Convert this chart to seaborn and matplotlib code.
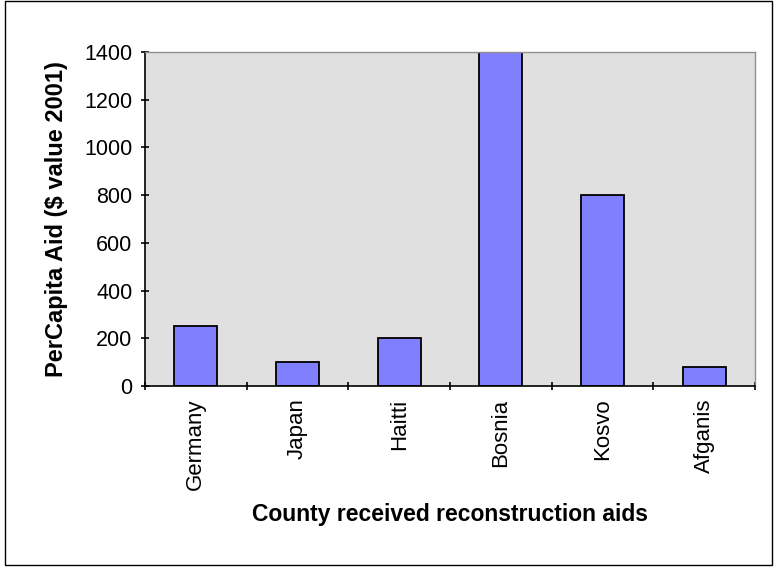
import numpy as np
import matplotlib
matplotlib.use("Agg")
import matplotlib.pyplot as plt
import seaborn as sns
import pandas as pd
from matplotlib.patches import Rectangle

# =======================
# Data
# =======================
countries = ["Germany", "Japan", "Haitti", "Bosnia", "Kosvo", "Afganis"]
aid_per_capita = [250, 100, 200, 1400, 800, 80]
y_ticks = [0, 200, 400, 600, 800, 1000, 1200, 1400]

df = pd.DataFrame({"country": countries, "aid": aid_per_capita})

# =======================
# Style
# =======================
sns.set_style("ticks")
plt.rcParams['font.family'] = ['Liberation Sans', 'DejaVu Sans']
plt.rcParams['text.color'] = 'black'
plt.rcParams['axes.labelcolor'] = 'black'
plt.rcParams['xtick.color'] = 'black'
plt.rcParams['ytick.color'] = 'black'

fig = plt.figure(figsize=(7.74, 5.67), dpi=100)
ax = fig.add_axes([0.1873, 0.3192, 0.7882, 0.5891])

sns.barplot(data=df, x="country", y="aid", color="#8080FF", saturation=1,
            edgecolor="black", linewidth=1.3, width=0.42, ax=ax)

ax.set_facecolor("#E0E0E0")
ax.set_xlim(-0.5, len(countries) - 0.5)
ax.set_ylim(0, 1400)
ax.set_yticks(y_ticks)
ax.set_yticklabels([str(v) for v in y_ticks], fontsize=15.5)

# ticks at category boundaries, labels at centres
ax.set_xticks(np.arange(len(countries)))
ax.set_xticklabels(countries, rotation=90, fontsize=16)
ax.set_xticks(np.arange(-0.5, len(countries)), minor=True)
ax.tick_params(axis="x", which="major", length=0, pad=9)
ax.tick_params(axis="x", which="minor", length=6, width=1.2, direction="inout")
ax.tick_params(axis="y", length=6, width=1.2, direction="inout", pad=6)

for side in ["left", "bottom"]:
    ax.spines[side].set_color("black")
    ax.spines[side].set_linewidth(1.2)
for side in ["top", "right"]:
    ax.spines[side].set_visible(True)
    ax.spines[side].set_color("#909090")
    ax.spines[side].set_linewidth(1.0)

ax.set_xlabel("County received reconstruction aids", fontsize=16.5, fontweight="bold", labelpad=9)
ax.set_ylabel("PerCapita Aid ($ value 2001)", fontsize=17, fontweight="bold", labelpad=12)

# outer chart border
fig.patches.append(Rectangle((0.006, 0.004), 0.992, 0.994, transform=fig.transFigure,
                             fill=False, edgecolor="black", linewidth=1.0))

fig.savefig("out.png", dpi=100)
plt.close(fig)
